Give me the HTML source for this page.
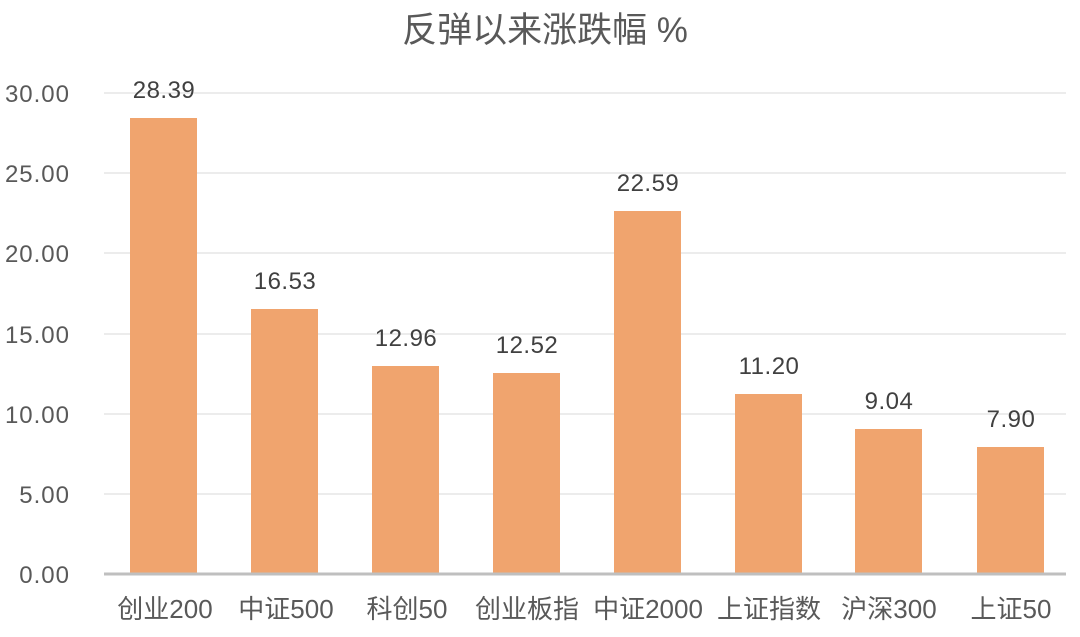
<!DOCTYPE html>
<html><head><meta charset="utf-8"><style>
html,body{margin:0;padding:0;background:#fff;}
svg{display:block;font-family:"Liberation Sans","Noto Sans CJK SC",sans-serif;}
</style></head><body>
<svg width="1080" height="637" viewBox="0 0 1080 637">
<text x="545" y="42" text-anchor="middle" font-size="35" fill="#595959">反弹以来涨跌幅 %</text>
<g stroke="#e6e6e6" stroke-width="1.5">
<line x1="104" x2="1066" y1="93" y2="93"/>
<line x1="104" x2="1066" y1="173" y2="173"/>
<line x1="104" x2="1066" y1="253" y2="253"/>
<line x1="104" x2="1066" y1="334" y2="334"/>
<line x1="104" x2="1066" y1="414" y2="414"/>
<line x1="104" x2="1066" y1="494" y2="494"/>
</g>
<g font-size="24" fill="#595959" text-anchor="end" letter-spacing="1">
<text x="70" y="102">30.00</text>
<text x="70" y="182">25.00</text>
<text x="70" y="262">20.00</text>
<text x="70" y="343">15.00</text>
<text x="70" y="423">10.00</text>
<text x="70" y="503">5.00</text>
<text x="70" y="583">0.00</text>
</g>
<g fill="#F0A46E">
<rect x="130" y="118" width="67" height="456"/>
<rect x="251" y="309" width="67" height="265"/>
<rect x="372" y="366" width="67" height="208"/>
<rect x="493" y="373" width="67" height="201"/>
<rect x="614" y="211" width="67" height="363"/>
<rect x="735" y="394" width="67" height="180"/>
<rect x="855" y="429" width="67" height="145"/>
<rect x="977" y="447" width="67" height="127"/>
</g>
<line x1="104" x2="1066" y1="574" y2="574" stroke="#bfbfbf" stroke-width="3"/>
<g font-size="24" fill="#404040" text-anchor="middle" letter-spacing="0.5">
<text x="164" y="98">28.39</text>
<text x="285" y="289">16.53</text>
<text x="406" y="346">12.96</text>
<text x="527" y="353">12.52</text>
<text x="648" y="191">22.59</text>
<text x="769" y="374">11.20</text>
<text x="889" y="409">9.04</text>
<text x="1011" y="427">7.90</text>
</g>
<g font-size="26" fill="#595959" text-anchor="middle">
<text x="165" y="618">创业200</text>
<text x="286" y="618">中证500</text>
<text x="407" y="618">科创50</text>
<text x="527" y="618">创业板指</text>
<text x="648" y="618">中证2000</text>
<text x="769" y="618">上证指数</text>
<text x="889" y="618">沪深300</text>
<text x="1011" y="618">上证50</text>
</g>
</svg>
</body></html>
